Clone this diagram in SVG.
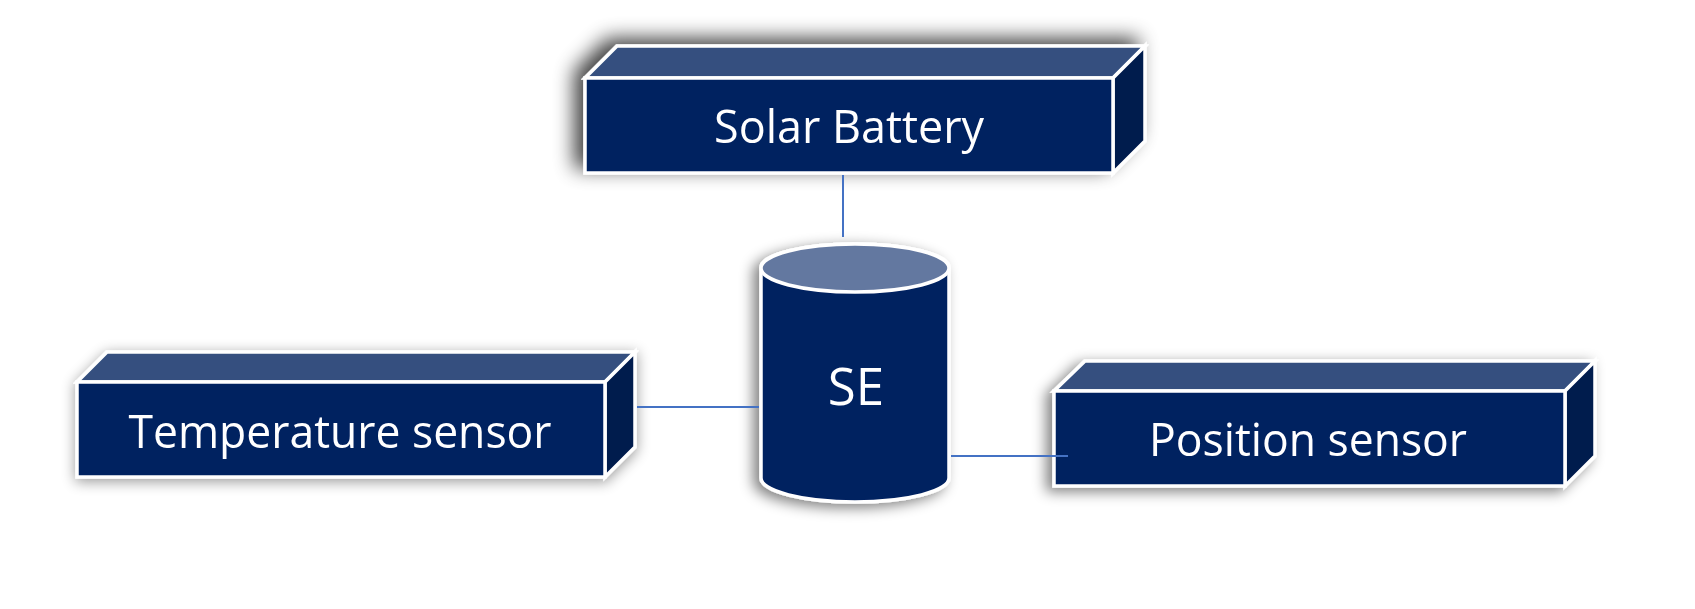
<svg xmlns="http://www.w3.org/2000/svg" width="1695" height="609" viewBox="0 0 1695 609">
<style>
.front{fill:#002060;stroke:#ffffff;stroke-width:3.5}
.top{fill:#34507f;stroke:#ffffff;stroke-width:3.5;stroke-linejoin:miter}
.side{fill:#011a4d;stroke:#ffffff;stroke-width:3.5}
.lbl{font-family:"Open Sans","Noto Sans",sans-serif;font-size:46px;fill:#ffffff;text-anchor:middle}
.conn{stroke:#4472c4;stroke-width:2;fill:none}
</style>
<defs>
<filter id="shTL" x="-20%" y="-60%" width="140%" height="220%">
<feGaussianBlur in="SourceAlpha" stdDeviation="10"/>
<feOffset dx="-9" dy="-6" result="b"/>
<feComponentTransfer><feFuncA type="linear" slope="0.75"/></feComponentTransfer>
<feMerge><feMergeNode/><feMergeNode in="SourceGraphic"/></feMerge>
</filter>
<filter id="sh" x="-20%" y="-50%" width="140%" height="200%">
<feGaussianBlur in="SourceAlpha" stdDeviation="7"/>
<feOffset dx="0" dy="3" result="b"/>
<feComponentTransfer><feFuncA type="linear" slope="0.4"/></feComponentTransfer>
<feMerge><feMergeNode/><feMergeNode in="SourceGraphic"/></feMerge>
</filter>
<filter id="shL" x="-20%" y="-50%" width="140%" height="200%">
<feGaussianBlur in="SourceAlpha" stdDeviation="7"/>
<feOffset dx="-6" dy="4" result="b"/>
<feComponentTransfer><feFuncA type="linear" slope="0.5"/></feComponentTransfer>
<feMerge><feMergeNode/><feMergeNode in="SourceGraphic"/></feMerge>
</filter>
</defs>
<rect width="1695" height="609" fill="#ffffff"/>
<g id="solar-battery" filter="url(#shTL)">
<polygon class="top" points="585,78 617,46 1145,46 1113,78"/>
<polygon class="side" points="1113,78 1145,46 1145,141 1113,173"/>
<rect class="front" x="585" y="78" width="528" height="95"/>
<text class="lbl" x="849" y="143" textLength="270" lengthAdjust="spacingAndGlyphs">Solar Battery</text>
</g>
<g id="temperature-sensor" filter="url(#sh)">
<polygon class="top" points="77,382 107,352 635,352 605,382"/>
<polygon class="side" points="605,382 635,352 635,447 605,477"/>
<rect class="front" x="77" y="382" width="528" height="95"/>
<text class="lbl" x="340" y="448" textLength="423" lengthAdjust="spacingAndGlyphs">Temperature sensor</text>
</g>
<g id="position-sensor" filter="url(#shL)">
<polygon class="top" points="1054,391 1085,361 1595,361 1565,391"/>
<polygon class="side" points="1565,391 1595,361 1595,456 1565,486"/>
<rect class="front" x="1054" y="391" width="511" height="95"/>
<text class="lbl" x="1308" y="456" textLength="318" lengthAdjust="spacingAndGlyphs">Position sensor</text>
</g>
<g id="se" filter="url(#shL)">
<path d="M761,268 A94,24 0 0 1 949,268 L949,478 A94,24 0 0 1 761,478 Z" fill="#002060" stroke="#ffffff" stroke-width="3.5"/>
<ellipse cx="855" cy="268" rx="94" ry="24" fill="#6478a0" stroke="#ffffff" stroke-width="3.5"/>
<text class="lbl" x="856" y="405" style="font-size:51px">SE</text>
</g>
<g id="connectors">
<line class="conn" x1="843" y1="175" x2="843" y2="237"/>
<line class="conn" x1="637" y1="407" x2="759" y2="407"/>
<line class="conn" x1="951" y1="456" x2="1068" y2="456"/>
</g>
</svg>
